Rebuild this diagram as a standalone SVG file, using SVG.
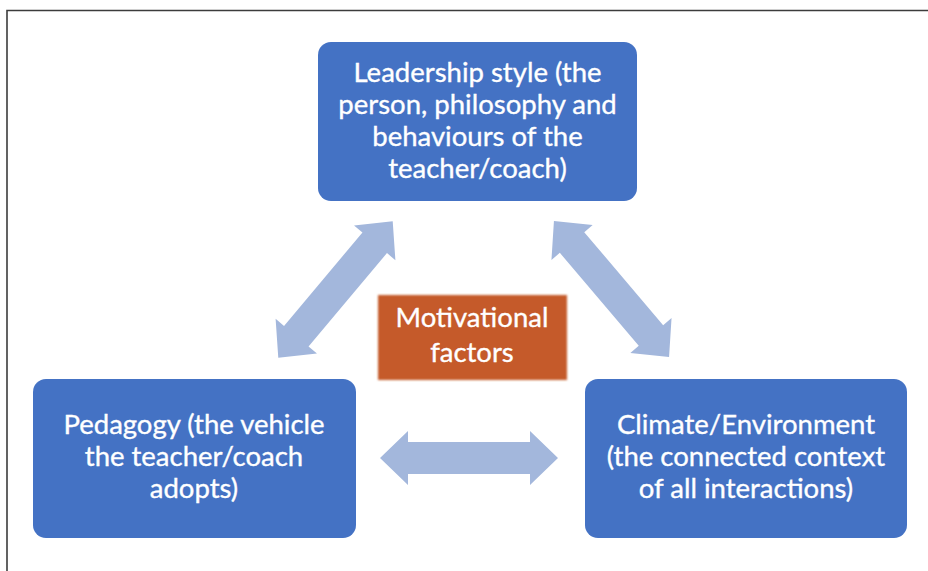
<svg xmlns="http://www.w3.org/2000/svg" width="928" height="571" viewBox="0 0 928 571">
  <defs>
    <style>
      .box { fill: #4472C4; }
      .lbl { font-family: Lato, "Open Sans", "Liberation Sans", sans-serif; font-size: 27.5px; fill: #FFFFFF; stroke: #FFFFFF; stroke-width: 0.35; text-anchor: middle; }
      .arrow { fill: #A3B7DC; }
      .frame { stroke: #3C3C3C; stroke-width: 1.6; fill: none; }
    </style>
    <!-- double-headed block arrow, centred on origin, pointing along x -->
    <path id="dbl" d="M-89,0 L-61,-27 L-61,-16 L61,-16 L61,-27 L89,0 L61,27 L61,16 L-61,16 L-61,27 Z"/>
    <filter id="soft" x="-10%" y="-10%" width="120%" height="120%">
      <feGaussianBlur stdDeviation="1.2"/>
    </filter>
  </defs>

  <rect width="928" height="571" fill="#FFFFFF"/>
  <path class="frame" d="M7,571 L7,10.5 L928,10.5"/>

  <g id="connectors">
    <use href="#dbl" class="arrow" transform="translate(335.5,289.5) rotate(-50)"/>
    <use href="#dbl" class="arrow" transform="translate(611.5,289) rotate(49.7)"/>
    <use href="#dbl" class="arrow" transform="translate(469,458)"/>
  </g>

  <g id="leadership">
    <rect class="box" x="318" y="42" width="319" height="159" rx="13"/>
    <text class="lbl" x="477.5" y="82">Leadership style (the</text>
    <text class="lbl" x="477.5" y="114">person, philosophy and</text>
    <text class="lbl" x="477.5" y="146">behaviours of the</text>
    <text class="lbl" x="477.5" y="178">teacher/coach)</text>
  </g>

  <g id="pedagogy">
    <rect class="box" x="33" y="379" width="323" height="159" rx="13"/>
    <text class="lbl" x="194" y="434">Pedagogy (the vehicle</text>
    <text class="lbl" x="194" y="466">the teacher/coach</text>
    <text class="lbl" x="194" y="498">adopts)</text>
  </g>

  <g id="climate">
    <rect class="box" x="585" y="379" width="322" height="159" rx="13"/>
    <text class="lbl" x="746" y="434">Climate/Environment</text>
    <text class="lbl" x="746" y="466">(the connected context</text>
    <text class="lbl" x="746" y="498">of all interactions)</text>
  </g>

  <g id="motivational">
    <rect x="378" y="295" width="189" height="85" fill="#C55A2C" filter="url(#soft)"/>
    <text class="lbl" x="472" y="327">Motivational</text>
    <text class="lbl" x="472" y="362">factors</text>
  </g>
</svg>
